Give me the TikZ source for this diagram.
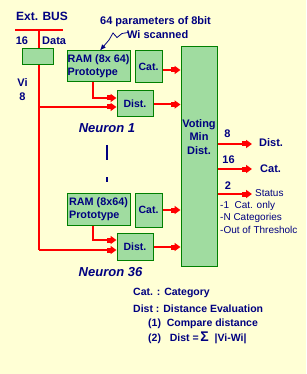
\documentclass[tikz,border=0pt]{standalone}
\usepackage{fontspec}
\setmainfont{Liberation Sans}
\usetikzlibrary{arrows.meta,calc}
\definecolor{bgc}{HTML}{FFFFD5}
\definecolor{boxfill}{HTML}{A0DCA0}
\definecolor{boxline}{HTML}{008000}
\definecolor{navy}{HTML}{000080}
\tikzset{
  box/.style={draw=boxline,fill=boxfill,line width=1pt,inner sep=0pt,align=left,text=navy,font=\fontsize{10.5}{12.5}\selectfont\bfseries},
  rambox/.style={box,minimum width=63pt,align=left,font=\fontsize{10.8}{13}\selectfont\bfseries},
  wire/.style={draw=red,line width=2pt},
  redarrow/.style={wire,-{Rectangle[length=4pt,width=5pt]Triangle[length=6pt,width=8pt]}},
  lbl/.style={text=navy,font=\fontsize{11}{13}\selectfont\bfseries,inner sep=0pt},
  plain/.style={text=navy,font=\fontsize{10}{12}\selectfont,inner sep=0pt},
}
\begin{document}
\begin{tikzpicture}[x=1pt,y=-1pt]
\fill[bgc] (0,0) rectangle (306,374);
\useasboundingbox (0,0) rectangle (306,374);

% boxes
\node[box,minimum width=31pt,minimum height=16pt] (reg) at (37.5,57) {};
\node[rambox,minimum height=31pt] (ram1) at (98.5,66.5) {RAM (8x~64)\\Prototype};
\node[box,minimum width=27pt,minimum height=32pt,align=center] (cat1) at (148.5,67) {Cat.};
\node[box,minimum width=36pt,minimum height=26pt,align=center] (dist1) at (135,104) {Dist.};
\node[box,minimum width=36pt,minimum height=219pt,align=center] (vote) at (199,156.5) {};
\node[rambox,minimum height=32pt] (ram2) at (98.5,209) {RAM (8x64)\\Prototype};
\node[box,minimum width=27pt,minimum height=34pt,align=center] (cat2) at (148.5,210) {Cat.};
\node[box,minimum width=36pt,minimum height=27pt,align=center] (dist2) at (135,246.5) {Dist.};

\node[lbl,font=\fontsize{11}{13.5}\selectfont\bfseries,align=center] (vtxt) at (199,137) {Voting\\Min\\Dist.};

% bus
\node[lbl,font=\fontsize{12}{14}\selectfont\bfseries] (ext) at (42,16) {Ext. BUS};
\coordinate (busL) at (15,30);
\coordinate (busR) at (63,30);
\coordinate (busT) at (39,30);
\draw[wire] (busL) -- (busR);
\draw[wire] (busT) -- (reg.north -| busT);
\coordinate (busB) at (39,250);
\coordinate (busM) at (39,107);
\draw[wire] (reg.south -| busT) -- (busB);
\draw[redarrow] (busM) -- (busM -| dist1.west);
\draw[redarrow] (busB) -- (busB -| dist2.west);
\node[lbl] (n16) at (22,41) {16};
\node[lbl,anchor=west] (data) at (42,41) {Data};
\node[lbl] (vi) at (22.5,83) {Vi};
\node[lbl] (v8) at (22.5,97) {8};

% RAM -> Dist
\coordinate (r1) at (93,98);
\coordinate (r2) at (93,240);
\draw[redarrow] (ram1.south -| r1) |- (r1 -| dist1.west);
\draw[redarrow] (ram2.south -| r2) |- (r2 -| dist2.west);

% to voting
\coordinate (a1) at (0,70);
\coordinate (a2) at (0,104.5);
\coordinate (a3) at (0,210);
\coordinate (a4) at (0,247);
\draw[redarrow] (a1 -| cat1.east) -- (a1 -| vote.west);
\draw[redarrow] (a2 -| dist1.east) -- (a2 -| vote.west);
\draw[redarrow] (a3 -| cat2.east) -- (a3 -| vote.west);
\draw[redarrow] (a4 -| dist2.east) -- (a4 -| vote.west);

% outputs
\coordinate (o1) at (252,144);
\coordinate (o2) at (252,169);
\coordinate (o3) at (252,194);
\draw[redarrow] (o1 -| vote.east) -- (o1);
\draw[redarrow] (o2 -| vote.east) -- (o2);
\draw[redarrow] (o3 -| vote.east) -- (o3);
\node[lbl] (w8) at (227.5,133.5) {8};
\node[lbl] (w16) at (228.5,160) {16};
\node[lbl] (w2) at (228,185.5) {2};
\node[lbl,anchor=west] (odist) at (259,142.5) {Dist.};
\node[lbl,anchor=west] (ocat) at (260,168.5) {Cat.};
\node[plain,anchor=west] (ostat) at (255,193) {Status};
\node[plain,anchor=west] (s1) at (220,206) {-1\ \ Cat. only};
\node[plain,anchor=west] (s2) at (220,218) {-N Categories};
\node[plain,anchor=west] (s3) at (220,229.5) {-Out of Thresholc};

% annotation
\node[lbl,anchor=west] (param) at (100,21.5) {64 parameters of 8bit};
\node[lbl,anchor=west] (wi) at (127,35) {Wi scanned};
\coordinate (z0) at (128,32.5);
\draw[navy,line width=0.8pt,-{Latex[length=6pt,width=5pt]}] (z0) -- (122,33.5) -- (117,37.5) -- (113,33) -- (109,40) -- (ram1.north -| 100,0);

% neuron labels
\node[lbl,font=\fontsize{13}{15}\selectfont\bfseries\itshape] (n1) at (107,128) {Neuron 1};
\node[lbl,font=\fontsize{13}{15}\selectfont\bfseries\itshape] (n36) at (110.5,272) {Neuron 36};
\draw[navy,line width=2pt] (107,145) -- (107,160);
\draw[navy,line width=2pt] (107,177) -- (107,182);

% legend
\node[lbl,font=\fontsize{10.5}{12}\selectfont\bfseries,anchor=west] (lg1) at (133,293) {Cat. : Category};
\node[lbl,font=\fontsize{10.5}{12}\selectfont\bfseries,anchor=west] (lg2) at (133,309) {Dist : Distance Evaluation};
\node[lbl,font=\fontsize{10.5}{12}\selectfont\bfseries,anchor=west] (lg3) at (148,323.5) {(1)\ \ Compare distance};
\node[lbl,font=\fontsize{10.5}{12}\selectfont\bfseries,anchor=west] (lg4) at (148,338) {(2)\ \ \ Dist =\,{\fontsize{14}{14}\selectfont Σ}\ \ |Vi-Wi|};
\end{tikzpicture}
\end{document}
